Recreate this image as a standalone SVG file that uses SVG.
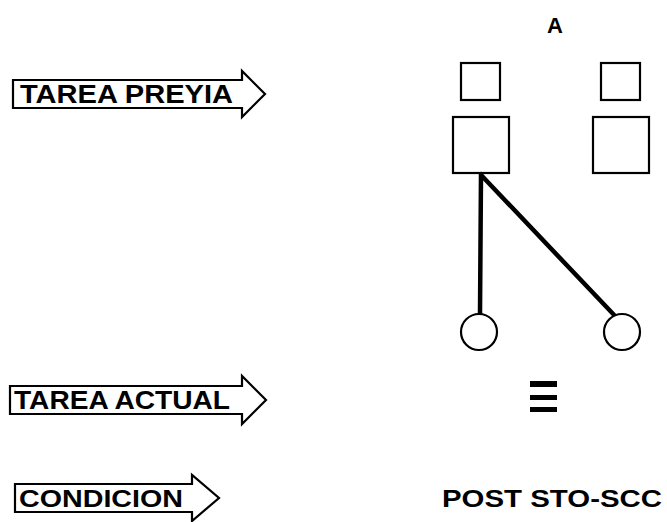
<svg xmlns="http://www.w3.org/2000/svg" width="667" height="522" viewBox="0 0 667 522">
  <style>
    .outline { fill: #fff; stroke: #000; stroke-width: 2.2; stroke-linejoin: miter; }
    .label { font-family: "Liberation Sans", "DejaVu Sans", sans-serif; font-weight: bold; fill: #000; }
    .edge { stroke: #000; stroke-width: 4.5; stroke-linecap: round; fill: none; }
  </style>
  <rect width="667" height="522" fill="#fff"/>

  <!-- row labels as block arrows -->
  <g id="tarea-previa">
    <polygon class="outline" points="13,80 242,80 242,71 265,94 242,117 242,108 13,108"/>
    <text class="label" x="20" y="103" font-size="25" textLength="213" lengthAdjust="spacingAndGlyphs">TAREA PREYIA</text>
  </g>
  <g id="tarea-actual">
    <polygon class="outline" points="10,386 242,386 242,376 266,400 242,424 242,414 10,414"/>
    <text class="label" x="14" y="409" font-size="25" textLength="216" lengthAdjust="spacingAndGlyphs">TAREA ACTUAL</text>
  </g>
  <g id="condicion">
    <polygon class="outline" points="15,484 192,484 192,475 219,498 192,521 192,512 15,512"/>
    <text class="label" x="19" y="507" font-size="24" textLength="164" lengthAdjust="spacingAndGlyphs">CONDICION</text>
  </g>

  <!-- column header -->
  <g id="header-a">
    <text class="label" x="555" y="33" font-size="22" text-anchor="middle">A</text>
  </g>

  <!-- previous-task boxes -->
  <g id="prev-small-left"><rect class="outline" x="461" y="63" width="39" height="37"/></g>
  <g id="prev-small-right"><rect class="outline" x="601" y="63" width="39" height="37"/></g>
  <g id="prev-large-left"><rect class="outline" x="453" y="117" width="56" height="56"/></g>
  <g id="prev-large-right"><rect class="outline" x="593" y="117" width="56" height="56"/></g>

  <!-- connectors -->
  <g id="connectors">
    <line class="edge" x1="481" y1="174" x2="480" y2="314"/>
    <line class="edge" x1="482" y1="176" x2="616" y2="317"/>
  </g>

  <!-- current-task circles -->
  <g id="actual-left"><circle class="outline" cx="479" cy="332" r="18"/></g>
  <g id="actual-right"><circle class="outline" cx="622" cy="332" r="18"/></g>

  <!-- identity symbol -->
  <g id="identity">
    <rect x="530" y="381" width="27" height="6" fill="#000"/>
    <rect x="530" y="395" width="27" height="5" fill="#000"/>
    <rect x="530" y="407" width="27" height="5" fill="#000"/>
  </g>

  <g id="post-condition">
    <text class="label" x="442" y="507" font-size="24" textLength="220" lengthAdjust="spacingAndGlyphs">POST STO-SCC</text>
  </g>
</svg>
